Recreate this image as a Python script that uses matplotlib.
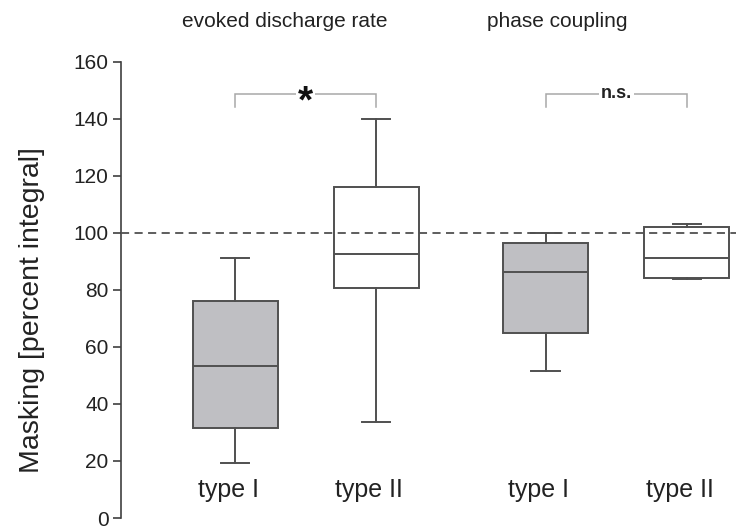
import matplotlib
matplotlib.use("Agg")
import matplotlib.pyplot as plt

plt.rcParams['font.family'] = ['Liberation Sans', 'DejaVu Sans']

# ------------------------------------------------------
# Box statistics (masking, percent integral)
# ------------------------------------------------------
groups = ["evoked discharge rate", "phase coupling"]
box_labels = ["type I", "type II", "type I", "type II"]
whisk_lo = [19.4, 33.8, 51.6, 83.8]
q1 = [31.5, 80.6, 65.0, 84.1]
medians = [53.3, 92.5, 86.1, 91.1]
q3 = [76.1, 116.2, 96.6, 102.0]
whisk_hi = [91.1, 140.0, 100.0, 103.2]
sig_marks = ["*", "n.s."]

positions = [1.0, 2.0, 3.2, 4.2]
title_x = [1.35, 3.28]
fills = ['#bfbfc3', 'white', '#bfbfc3', 'white']
edge = '#505050'

fig = plt.figure(figsize=(7.36, 5.28), dpi=100)
ax = fig.add_axes([0.1644, 0.0189, 0.8356, 0.8642])

stats = []
for i in range(len(medians)):
    stats.append({
        'med': medians[i], 'q1': q1[i], 'q3': q3[i],
        'whislo': whisk_lo[i], 'whishi': whisk_hi[i], 'fliers': [],
    })

bp = ax.bxp(stats, positions=positions, widths=0.6, capwidths=0.2,
            patch_artist=True, showfliers=False,
            boxprops=dict(edgecolor=edge, linewidth=1.4),
            medianprops=dict(color=edge, linewidth=1.4),
            whiskerprops=dict(color=edge, linewidth=1.4),
            capprops=dict(color=edge, linewidth=1.4))
for patch, fc in zip(bp['boxes'], fills):
    patch.set_facecolor(fc)
    patch.set_zorder(2)

# reference level (no masking)
ax.axhline(100, color=edge, lw=1.3, dashes=(4.5, 3.0), zorder=3)

ax.set_xlim(0.19, 4.55)
ax.set_ylim(0, 160)
ax.set_yticks(range(0, 161, 20))
ax.set_xticks([])
for side in ['top', 'right', 'bottom']:
    ax.spines[side].set_visible(False)
ax.spines['left'].set_color('#404040')
ax.spines['left'].set_linewidth(1.2)
ax.tick_params(axis='y', direction='out', length=6, width=1.2, color='#404040',
               labelsize=15, labelcolor='#222222', pad=3)
ax.set_ylabel("Masking [percent integral]", fontsize=20.5, color='#222222')
ax.yaxis.set_label_coords(-0.123, 0.455)

# labels under each box
for x, lab in zip(positions, box_labels):
    ax.text(x - 0.05, 10, lab, ha='center', va='center', fontsize=18, color='#222222')

# group titles above the plot
for xt, title in zip(title_x, groups):
    ax.text(xt, 174, title, ha='center', va='center', fontsize=15,
            color='#222222', clip_on=False)

# significance brackets
for k, mark in enumerate(sig_marks):
    x0, x1 = positions[2 * k], positions[2 * k + 1]
    ax.plot([x0, x0, x1, x1], [144, 148.8, 148.8, 144], color='#a8a8a8', lw=1.1,
            solid_joinstyle='miter', clip_on=False)
    xm = (x0 + x1) / 2
    if mark == "*":
        ax.text(xm, 142.2, mark, ha='center', va='baseline', fontsize=28,
                fontweight='bold', color='#111111',
                bbox=dict(boxstyle='square,pad=0.05', fc='white', ec='none'))
    else:
        ax.text(xm, 148.8, mark, ha='center', va='center', fontsize=13,
                fontweight='bold', color='#222222',
                bbox=dict(boxstyle='square,pad=0.1', fc='white', ec='none'))

fig.savefig("out.png", dpi=100)
